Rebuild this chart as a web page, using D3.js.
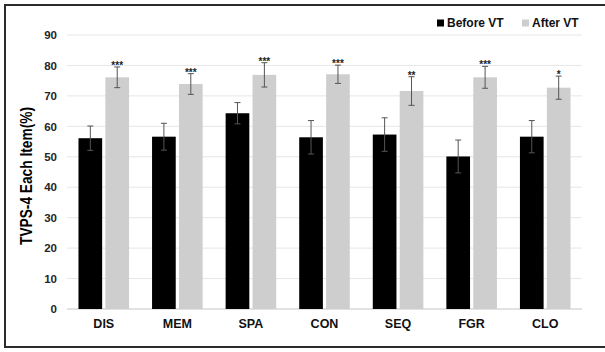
<!DOCTYPE html>
<html>
<head>
<meta charset="utf-8">
<script src="https://cdn.jsdelivr.net/npm/d3@7"></script>
<style>
  html, body { margin: 0; padding: 0; background: #fff; }
  svg { display: block; }
  text { font-family: Arial, "Liberation Sans", sans-serif; font-weight: bold; }
</style>
</head>
<body>
<svg id="chart" width="605" height="352"></svg>
<script>
// TVPS-4 subtest scores before and after vision therapy
const categories = ["DIS", "MEM", "SPA", "CON", "SEQ", "FGR", "CLO"];
const series = ["Before VT", "After VT"];
const beforeValues = [56.1, 56.6, 64.3, 56.4, 57.3, 50.1, 56.6];
const beforeErrors = [4.0, 4.4, 3.5, 5.5, 5.5, 5.4, 5.3];
const afterValues = [76.1, 73.9, 76.9, 77.1, 71.6, 76.1, 72.7];
const afterErrors = [3.4, 3.4, 4.0, 3.0, 4.7, 3.6, 3.8];
const significance = ["***", "***", "***", "***", "**", "***", "*"];
const yTicks = [0, 10, 20, 30, 40, 50, 60, 70, 80, 90];
const yTitle = "TVPS-4 Each Item(%)";

const colors = { "Before VT": "#000000", "After VT": "#cfcecf" };

const svg = d3.select("#chart");
const W = 605, H = 352;
const margin = { left: 67, right: 23, top: 35, bottom: 43 };

// outer frame
svg.append("rect")
  .attr("x", 5).attr("y", 5)
  .attr("width", W + 10).attr("height", 342)
  .attr("fill", "none").attr("stroke", "#2b2b2b").attr("stroke-width", 2);

const x = d3.scaleBand()
  .domain(categories)
  .range([margin.left, W - margin.right])
  .paddingInner(0.3125).paddingOuter(0.156);

const x1 = d3.scaleBand()
  .domain(series)
  .range([0, x.bandwidth()])
  .paddingInner(0.12);

const y = d3.scaleLinear()
  .domain([0, 90])
  .range([H - margin.bottom, margin.top]);

// gridlines
svg.append("g")
  .selectAll("line")
  .data(yTicks)
  .join("line")
  .attr("x1", margin.left).attr("x2", W - margin.right)
  .attr("y1", d => y(d)).attr("y2", d => y(d))
  .attr("stroke", d => d === 0 ? "#d9d9d9" : "#e6e6e6")
  .attr("stroke-width", d => d === 0 ? 1.5 : 1);

// y axis labels
const yAxis = d3.axisLeft(y).tickValues(yTicks).tickSize(0).tickPadding(10);
const gy = svg.append("g")
  .attr("transform", `translate(${margin.left},0)`)
  .call(yAxis);
gy.select(".domain").remove();
gy.selectAll("text")
  .attr("font-size", 11.5).attr("fill", "#262626")
  .attr("font-family", "Arial, 'Liberation Sans', sans-serif")
  .attr("font-weight", "bold");

// x axis labels
const xAxis = d3.axisBottom(x).tickSize(0).tickPadding(10);
const gx = svg.append("g")
  .attr("transform", `translate(0,${y(0)})`)
  .call(xAxis);
gx.select(".domain").remove();
gx.selectAll("text")
  .attr("font-size", 12.5).attr("fill", "#111")
  .attr("font-family", "Arial, 'Liberation Sans', sans-serif")
  .attr("font-weight", "bold");

// y title, condensed to fit the axis height
svg.append("text")
  .attr("transform", "translate(32,176) rotate(-90)")
  .attr("text-anchor", "middle")
  .attr("font-size", 16).attr("fill", "#000")
  .attr("textLength", 138).attr("lengthAdjust", "spacingAndGlyphs")
  .text(yTitle);

// bars
const rows = categories.map((c, i) => ({
  cat: c,
  items: [
    { s: "Before VT", v: beforeValues[i], e: beforeErrors[i] },
    { s: "After VT", v: afterValues[i], e: afterErrors[i], sig: significance[i] }
  ]
}));

const groups = svg.append("g").selectAll("g")
  .data(rows)
  .join("g")
  .attr("transform", d => `translate(${x(d.cat)},0)`);

groups.selectAll("rect")
  .data(d => d.items)
  .join("rect")
  .attr("x", d => x1(d.s))
  .attr("width", x1.bandwidth())
  .attr("y", d => y(d.v))
  .attr("height", d => y(0) - y(d.v))
  .attr("fill", d => colors[d.s]);

// error bars
const capW = 3;
const eb = groups.selectAll("g.err")
  .data(d => d.items)
  .join("g")
  .attr("class", "err")
  .attr("stroke", "#555")
  .attr("stroke-width", 1);
eb.append("line")
  .attr("x1", d => x1(d.s) + x1.bandwidth() / 2)
  .attr("x2", d => x1(d.s) + x1.bandwidth() / 2)
  .attr("y1", d => y(d.v + d.e)).attr("y2", d => y(d.v - d.e));
eb.append("line")
  .attr("x1", d => x1(d.s) + x1.bandwidth() / 2 - capW)
  .attr("x2", d => x1(d.s) + x1.bandwidth() / 2 + capW)
  .attr("y1", d => y(d.v + d.e)).attr("y2", d => y(d.v + d.e));
eb.append("line")
  .attr("x1", d => x1(d.s) + x1.bandwidth() / 2 - capW)
  .attr("x2", d => x1(d.s) + x1.bandwidth() / 2 + capW)
  .attr("y1", d => y(d.v - d.e)).attr("y2", d => y(d.v - d.e));

// significance marks
groups.selectAll("text.sig")
  .data(d => d.items.filter(it => it.sig))
  .join("text")
  .attr("class", "sig")
  .attr("x", d => x1(d.s) + x1.bandwidth() / 2)
  .attr("y", d => y(d.v + d.e) + 2)
  .attr("text-anchor", "middle")
  .attr("font-size", 10).attr("fill", "#222")
  .text(d => d.sig);

// legend
const legend = svg.append("g").attr("transform", "translate(437,23)");
const legendX = [0, 85];
series.forEach((s, i) => {
  const g = legend.append("g").attr("transform", `translate(${legendX[i]},0)`);
  g.append("rect").attr("x", 0).attr("y", -3.5).attr("width", 7).attr("height", 7)
    .attr("fill", colors[s]);
  g.append("text").attr("x", 10).attr("y", 0).attr("dy", "0.35em")
    .attr("font-size", 12).attr("fill", "#111").text(s);
});
</script>
</body>
</html>
